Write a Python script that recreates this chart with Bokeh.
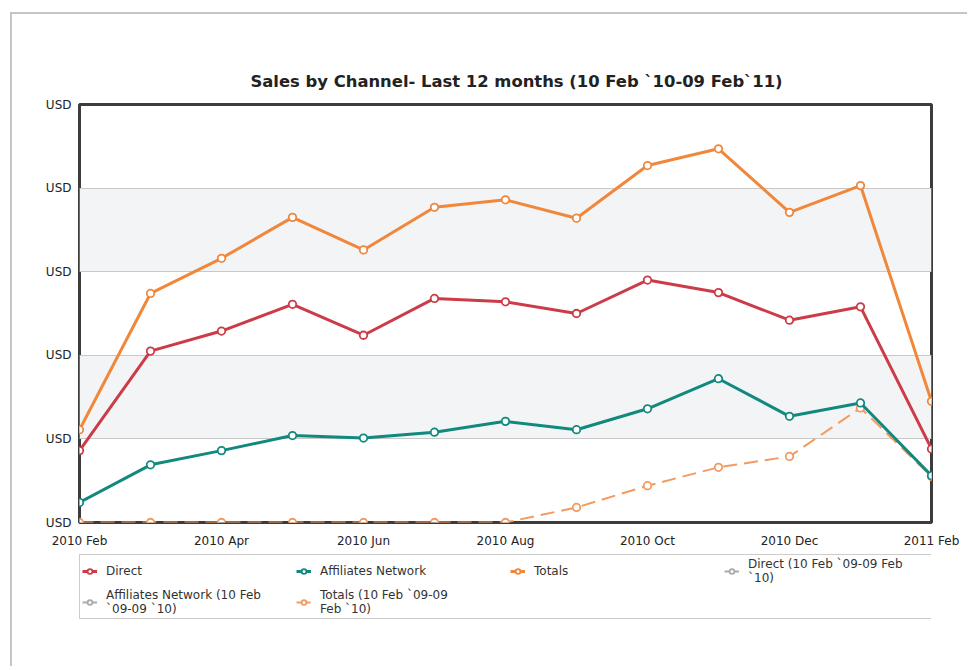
from math import nan
from bokeh.plotting import figure
from bokeh.layouts import column
from bokeh.models import FixedTicker, Legend, LegendItem, ColumnDataSource, Range1d
from bokeh.embed import file_html
from bokeh.resources import INLINE

# ---- data ----
months = ["2010 Feb", "2010 Mar", "2010 Apr", "2010 May", "2010 Jun", "2010 Jul",
          "2010 Aug", "2010 Sep", "2010 Oct", "2010 Nov", "2010 Dec", "2011 Jan", "2011 Feb"]
direct = [0.86, 2.05, 2.29, 2.61, 2.24, 2.68, 2.64, 2.50, 2.90, 2.75, 2.42, 2.58, 0.88]
affiliates = [0.24, 0.69, 0.86, 1.04, 1.01, 1.08, 1.21, 1.11, 1.36, 1.72, 1.27, 1.43, 0.56]
totals = [1.11, 2.74, 3.16, 3.65, 3.26, 3.77, 3.86, 3.64, 4.27, 4.47, 3.71, 4.03, 1.45]
totals_prev = [0, 0, 0, 0, 0, 0, 0, 0.18, 0.44, 0.66, 0.79, 1.37, 0.55]
# no visible points for these two series in the reference (legend only)
direct_prev = [nan, nan, nan, nan, nan, nan, nan, nan, nan, nan, nan, nan, nan]
affiliates_prev = [nan, nan, nan, nan, nan, nan, nan, nan, nan, nan, nan, nan, nan]
y_ticks = [0, 1, 2, 3, 4, 5]
y_tick_label = "USD"
x_tick_step = 2

title = "Sales by Channel- Last 12 months (10 Feb `10-09 Feb`11)"

FONT = "DejaVu Sans"
x = list(range(len(months)))

# ---------------- main chart ----------------
p = figure(width=955, height=536, output_backend="svg", toolbar_location=None,
           x_range=(x[0], x[-1]), y_range=(y_ticks[0], y_ticks[-1]),
           min_border_left=65, min_border_right=36, min_border_top=90, min_border_bottom=24,
           title=title, background_fill_color="white", border_fill_color="white")

p.title.text_font = FONT
p.title.text_font_size = "16.4px"
p.title.text_font_style = "bold"
p.title.text_color = "#222222"
p.title.align = "left"
p.title.offset = 171
p.title.standoff = 27

xt = x[::x_tick_step]
p.xaxis.ticker = FixedTicker(ticks=xt)
p.xaxis.major_label_overrides = {i: months[i] for i in xt}
p.yaxis.ticker = FixedTicker(ticks=y_ticks)
p.yaxis.major_label_overrides = {t: y_tick_label for t in y_ticks}
for ax in (p.xaxis[0], p.yaxis[0]):
    ax.axis_line_color = None
    ax.major_tick_line_color = None
    ax.minor_tick_line_color = None
    ax.major_label_text_font = FONT
    ax.major_label_text_font_size = "12px"
    ax.major_label_text_color = "#222222"
p.xaxis.major_label_standoff = 5
p.yaxis.major_label_standoff = 2

p.xgrid.visible = False
p.ygrid.ticker = FixedTicker(ticks=y_ticks)
p.ygrid.grid_line_color = "#c8c8c8"
p.ygrid.grid_line_width = 1
p.ygrid.band_fill_color = "#f2f4f6"
p.ygrid.band_fill_alpha = 1.0

p.outline_line_color = "#3c3c3c"
p.outline_line_width = 3

series = [
    ("Totals (10 Feb `09-09\nFeb `10)", totals_prev, "#f29a60", 2, "14 7"),
    ("Direct (10 Feb `09-09 Feb\n`10)", direct_prev, "#aaaaaa", 2, "solid"),
    ("Affiliates Network (10 Feb\n`09-09 `10)", affiliates_prev, "#aaaaaa", 2, "solid"),
    ("Affiliates Network", affiliates, "#12897f", 3, "solid"),
    ("Direct", direct, "#cc3b48", 3, "solid"),
    ("Totals", totals, "#f0873a", 3, "solid"),
]

# ---------------- legend strip (same series, shown as a legend only) ----------------
lf = figure(width=955, height=116, output_backend="svg", toolbar_location=None,
            x_range=Range1d(x[0], x[-1]), y_range=Range1d(-2, -1),
            min_border_left=67, min_border_right=8, min_border_top=4, min_border_bottom=0,
            background_fill_color="white", border_fill_color="white")
lf.axis.visible = False
lf.grid.visible = False
lf.outline_line_color = None

rends = {}
for name, vals, color, lw, dash in series:
    src = ColumnDataSource(dict(x=x[:len(vals)], y=vals))
    rl = []
    for fig in (p, lf):
        lr = fig.line("x", "y", source=src, line_color=color, line_width=lw, line_dash=dash)
        sr = fig.scatter("x", "y", source=src, size=7.5, marker="circle", fill_color="white",
                         line_color=color, line_width=1.8)
        if fig is lf:
            rl = [lr, sr]
    rends[name] = rl

order = ["Direct", "Affiliates Network", "Totals", "Direct (10 Feb `09-09 Feb\n`10)",
         "Affiliates Network (10 Feb\n`09-09 `10)", "Totals (10 Feb `09-09\nFeb `10)"]
items = [LegendItem(label=n, renderers=rends[n]) for n in order]
legend = Legend(items=items, location="top_left", ncols=4, orientation="horizontal",
                border_line_color="#999999", border_line_width=1.5,
                background_fill_color="white", background_fill_alpha=1.0,
                label_text_font=FONT, label_text_font_size="12px", label_text_color="#333333",
                glyph_width=15, glyph_height=12, label_standoff=9, label_width=187,
                spacing=3, padding=2, margin=0)
lf.add_layout(legend)

layout = column(p, lf, spacing=0,
                styles={"margin-left": "10px", "margin-top": "12px",
                        "border-left": "2px solid #c3c6c9", "border-top": "2px solid #c3c6c9"})

open("out.html", "w").write(file_html(layout, INLINE))
